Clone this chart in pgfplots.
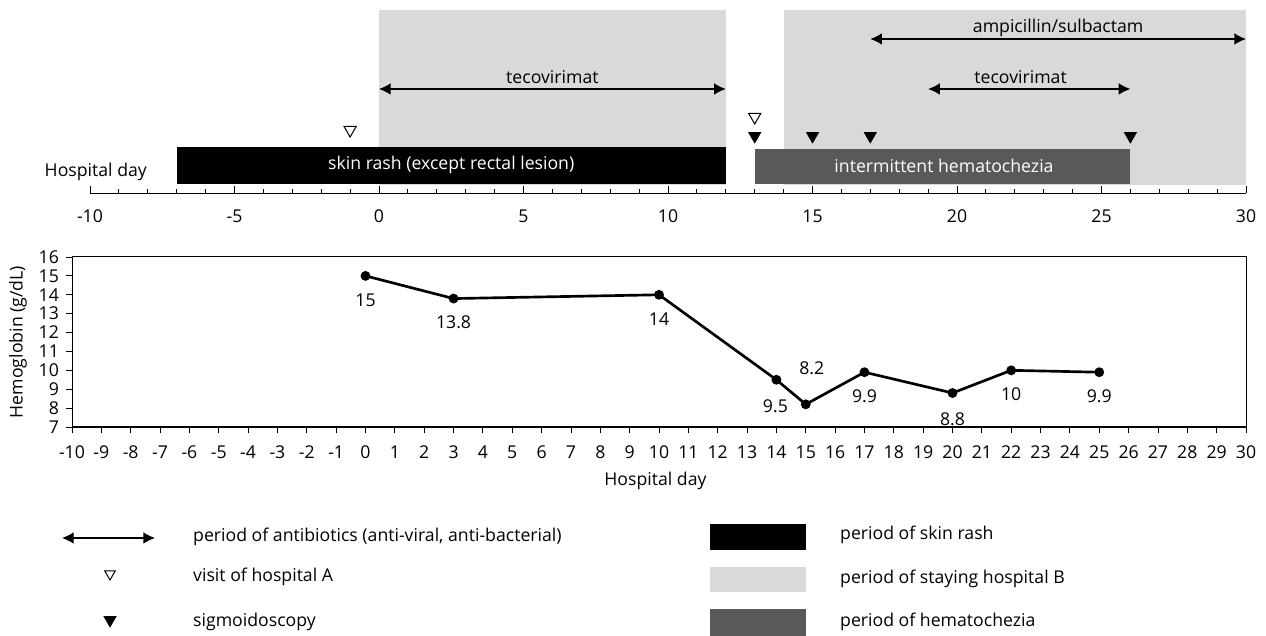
\documentclass[border=0pt]{standalone}
\usepackage{pgfplots}
\pgfplotsset{compat=1.18}
\usetikzlibrary{arrows.meta}
\usepackage{fontspec}
\setmainfont{Open Sans}
\definecolor{lgray}{HTML}{D9D9D9}
\definecolor{dgray}{HTML}{595959}
\newcommand{\fs}{\fontsize{10.6pt}{12.5pt}\selectfont}
\begin{document}
\fs
\begin{tikzpicture}[every node/.append style={font=\fs}]
\useasboundingbox (0,0) rectangle (759.6pt,381.6pt);
% ---------- top timeline ----------
\begin{axis}[
  at={(54pt,265.8pt)}, anchor=south west, scale only axis,
  width=693.6pt, height=109.8pt,
  xmin=-10, xmax=30, ymin=0, ymax=183,
  axis x line*=bottom, axis y line=none,
  xtick={-10,-5,...,30}, minor xtick={-10,-9,...,30},
  tick align=inside, major tick length=4pt, minor tick length=2.4pt,
  tick style={black, line width=0.5pt}, axis line style={black, line width=0.5pt},
  xticklabel style={yshift=-6.5pt, font=\fs},
  /pgf/number format/assume math mode=true,
  clip=false,
]
\addplot[fill=lgray, draw=none] coordinates {(0,8) (12,8) (12,183) (0,183)};
\addplot[fill=lgray, draw=none] coordinates {(14,8) (30,8) (30,183) (14,183)};
\addplot[fill=black, draw=none] coordinates {(-7,9) (12,9) (12,46) (-7,46)};
\addplot[fill=dgray, draw=none] coordinates {(13,9) (26,9) (26,44) (13,44)};
\addplot[{Latex[length=7pt,width=7pt]}-{Latex[length=7pt,width=7pt]}, line width=0.8pt] coordinates {(0,104) (12,104)};
\addplot[{Latex[length=7pt,width=7pt]}-{Latex[length=7pt,width=7pt]}, line width=0.8pt] coordinates {(19,104) (26,104)};
\addplot[{Latex[length=7pt,width=7pt]}-{Latex[length=7pt,width=7pt]}, line width=0.8pt] coordinates {(17,154) (30,154)};
\addplot[only marks, mark=triangle, mark size=4.2pt, mark options={rotate=180, fill=white, draw=black, line width=0.6pt}] coordinates {(-1,63) (13,76)};
\addplot[only marks, mark=triangle*, mark size=4.2pt, mark options={rotate=180, fill=black, draw=black}] coordinates {(13,57) (15,57) (17,57) (26,57)};
\node at (axis cs:6,116) {tecovirimat};
\node at (axis cs:22.2,116) {tecovirimat};
\node at (axis cs:23.5,165) {ampicillin/sulbactam};
\node[text=white] at (axis cs:2.5,28) {skin rash (except rectal lesion)};
\node[text=white] at (axis cs:19.55,27) {intermittent hematochezia};
\node at (axis cs:-9.8,21) {Hospital day};
\end{axis}
% ---------- hemoglobin chart ----------
\begin{axis}[
  at={(43.2pt,125.4pt)}, anchor=south west, scale only axis,
  width=704.4pt, height=102pt,
  xmin=-10, xmax=30, ymin=7, ymax=16,
  xtick={-10,-9,...,30}, ytick={7,8,...,16},
  tick align=outside, major tick length=3.6pt,
  xtick pos=bottom, ytick pos=left,
  tick style={black, line width=0.5pt}, axis line style={black, line width=0.6pt},
  xticklabel style={yshift=-4pt},
  yticklabel style={xshift=-0.5pt},
  ticklabel style={font=\fs},
  /pgf/number format/assume math mode=true,
  clip=false,
]
\draw[line width=1.3pt] (rel axis cs:0,0) -- (rel axis cs:1,0);
\addplot[black, line width=1.6pt, mark=*, mark size=2.1pt] coordinates {
  (0,15) (3,13.8) (10,14) (14,9.5) (15,8.2) (17,9.9) (20,8.8) (22,10) (25,9.9)};
\node[yshift=-14.4pt] at (axis cs:0,15) {15};
\node[yshift=-14.4pt] at (axis cs:3,13.8) {13.8};
\node[yshift=-14.4pt] at (axis cs:10,14) {14};
\node[yshift=-15.6pt, xshift=-0.6pt] at (axis cs:14,9.5) {9.5};
\node[yshift=21.6pt, xshift=3.6pt] at (axis cs:15,8.2) {8.2};
\node[yshift=-14.4pt] at (axis cs:17,9.9) {9.9};
\node[yshift=-15.6pt] at (axis cs:20,8.8) {8.8};
\node[yshift=-14.4pt] at (axis cs:22,10) {10};
\node[yshift=-14.4pt] at (axis cs:25,9.9) {9.9};
\node[yshift=-32.6pt] at (rel axis cs:0.497,0) {Hospital day};
\node[rotate=90] at ([xshift=-32.4pt]rel axis cs:0,0.5) {Hemoglobin (g/dL)};
\end{axis}
% ---------- legend ----------
\begin{axis}[
  at={(0pt,0pt)}, anchor=south west, scale only axis,
  width=759.6pt, height=81.6pt,
  xmin=0, xmax=1266, ymin=0, ymax=136,
  hide axis, clip=false,
]
\addplot[{Latex[length=7pt,width=7pt]}-{Latex[length=7pt,width=7pt]}, line width=0.8pt] coordinates {(62,98) (155,98)};
\addplot[only marks, mark=triangle, mark size=3.6pt, mark options={rotate=180, fill=white, draw=black, line width=0.6pt}] coordinates {(110,62)};
\addplot[only marks, mark=triangle*, mark size=4.2pt, mark options={rotate=180, fill=black, draw=black}] coordinates {(110,16)};
\addplot[fill=black, draw=none] coordinates {(710,86) (806,86) (806,112) (710,112)};
\addplot[fill=lgray, draw=none] coordinates {(710,44) (806,44) (806,69) (710,69)};
\addplot[fill=dgray, draw=none] coordinates {(710,0) (806,0) (806,27) (710,27)};
\node[anchor=west] at (axis cs:187,99) {period of antibiotics (anti-viral, anti-bacterial)};
\node[anchor=west] at (axis cs:187,59) {visit of hospital A};
\node[anchor=west] at (axis cs:187,14) {sigmoidoscopy};
\node[anchor=west] at (axis cs:834,101) {period of skin rash};
\node[anchor=west] at (axis cs:834,57) {period of staying hospital B};
\node[anchor=west] at (axis cs:834,14) {period of hematochezia};
\end{axis}
\end{tikzpicture}
\end{document}
